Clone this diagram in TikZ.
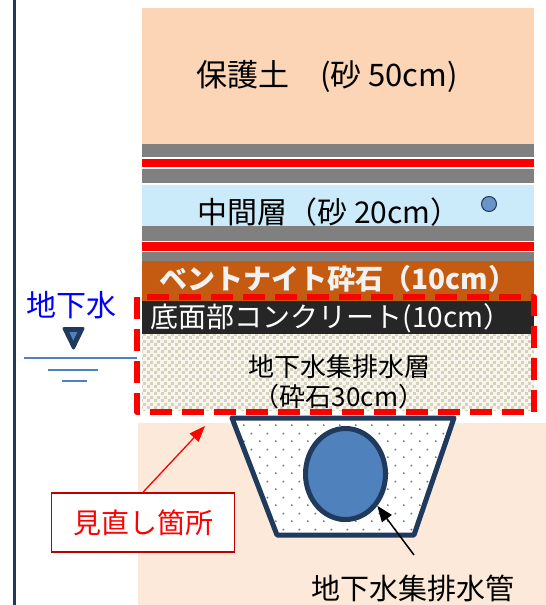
\documentclass[tikz,border=0pt]{standalone}
\usepackage{fontspec}
\setmainfont{Noto Sans CJK JP}
\usetikzlibrary{patterns,shapes.geometric,arrows.meta}

\definecolor{soil}{HTML}{FBD5B5}
\definecolor{ground}{HTML}{FDE9D9}
\definecolor{sand}{HTML}{CCEBFA}
\definecolor{bentonite}{HTML}{C55A11}
\definecolor{concrete}{HTML}{262626}
\definecolor{sheet}{HTML}{808080}
\definecolor{navy}{HTML}{1F3A5C}
\definecolor{water}{HTML}{4F81BD}
\definecolor{pebble}{HTML}{D6D2BC}
\definecolor{pebblebg}{HTML}{F7F5EE}
\definecolor{darkred}{HTML}{C00000}

\pgfdeclarepatternformonly{pebbles}{\pgfqpoint{0pt}{0pt}}{\pgfqpoint{7pt}{7pt}}{\pgfqpoint{7pt}{7pt}}
{
  \pgfpathrectangle{\pgfqpoint{0pt}{0pt}}{\pgfqpoint{3.2pt}{3.2pt}}
  \pgfpathrectangle{\pgfqpoint{3.5pt}{3.5pt}}{\pgfqpoint{3.2pt}{3.2pt}}
  \pgfusepath{fill}
}
\pgfdeclarepatternformonly{filterdots}{\pgfqpoint{0pt}{0pt}}{\pgfqpoint{16pt}{16pt}}{\pgfqpoint{16pt}{16pt}}
{
  \pgfpathcircle{\pgfqpoint{4pt}{4pt}}{1.1pt}
  \pgfpathcircle{\pgfqpoint{12pt}{12pt}}{1.1pt}
  \pgfusepath{fill}
}

\begin{document}
\begin{tikzpicture}[x=1pt,y=-1pt,
    txt/.style={font=\fontsize{#1pt}{#1pt}\selectfont},
    tip/.style={-{Triangle[length=16pt,width=12pt]}}]
  \useasboundingbox (0,0) rectangle (546,605);
  \draw[navy, line width=3] (14,0) -- (14,605);
  \fill[ground] (138,423) rectangle (546,605);

  \fill[soil] (142,8) rectangle (534,144);
  \node[txt=31] (cover) at (327,77) {保護土\quad(砂 50cm)};
  \fill[sheet] (142,144) rectangle (534,157);
  \fill[red] (142,158.5) rectangle (534,166.5);
  \fill[sheet] (142,169) rectangle (534,183);

  \fill[sand] (142,184.5) rectangle (534,234);
  \node[txt=30] (middle) at (329,212) {中間層（砂 20cm）};
  \filldraw[fill=water!85!white, draw=navy, line width=1] (489,204) circle (7.5);
  \fill[sheet] (142,226) rectangle (534,240.5);
  \fill[red] (142,242) rectangle (534,251);
  \fill[sheet] (142,252) rectangle (534,261);

  \fill[bentonite] (142,261) rectangle (534,301);
  \node[txt=28, text=white!95!black] (seal) at (338,279) {\bfseries ベントナイト砕石（10cm）};
  \fill[concrete] (142,301) rectangle (534,334);
  \node[txt=28, text=white] (slab) at (331,318) {底面部コンクリート(10cm）};
  \fill[pebblebg] (142,334) rectangle (534,410);
  \fill[pattern=pebbles, pattern color=pebble] (142,334) rectangle (534,410);
  \node[txt=26, align=center] (drainlayer) at (339,381.5) {地下水集排水層\\[4pt]（砕石30cm）};
  \draw[red, line width=6, dash pattern=on 22pt off 10pt, line join=round] (137,297) rectangle (534,412);

  \draw[navy, line width=5, line join=round, preaction={fill=white},
    pattern=filterdots, pattern color=water] (232,418) -- (454,418) -- (414,535) -- (277,535) -- cycle;
  \node[ellipse, draw=navy, line width=5, fill=water, minimum width=80, minimum height=91, inner sep=0] (pipe) at (345.5,474) {};
  \node[txt=29] (pipelabel) at (413,588) {地下水集排水管};
  \coordinate (pipetail) at (414,555);
  \draw[tip, line width=1.5] (pipetail) -- (pipe.-45);

  \node[txt=28, text=red, draw=darkred, line width=1.5, fill=white, minimum width=183, minimum height=59] (review) at (143,522.5) {見直し箇所};
  \coordinate (reviewtip) at (205,426);
  \draw[tip, red, line width=1.3] (review.north) -- (reviewtip);

  \node[txt=30, text=blue] (gw) at (71,305.5) {地下水};
  \filldraw[navy, line width=3, line join=round] (64,328.5) -- (83,328.5) -- (73.5,348) -- cycle;
  \fill[water] (69.3,332) -- (77.3,332) -- (73.3,340.5) -- cycle;
  \draw[water, line width=2] (24,357.7) -- (137,357.7);
  \draw[water, line width=2] (48,370) -- (98,370);
  \draw[water, line width=2] (62,381) -- (87,381);
\end{tikzpicture}
\end{document}
